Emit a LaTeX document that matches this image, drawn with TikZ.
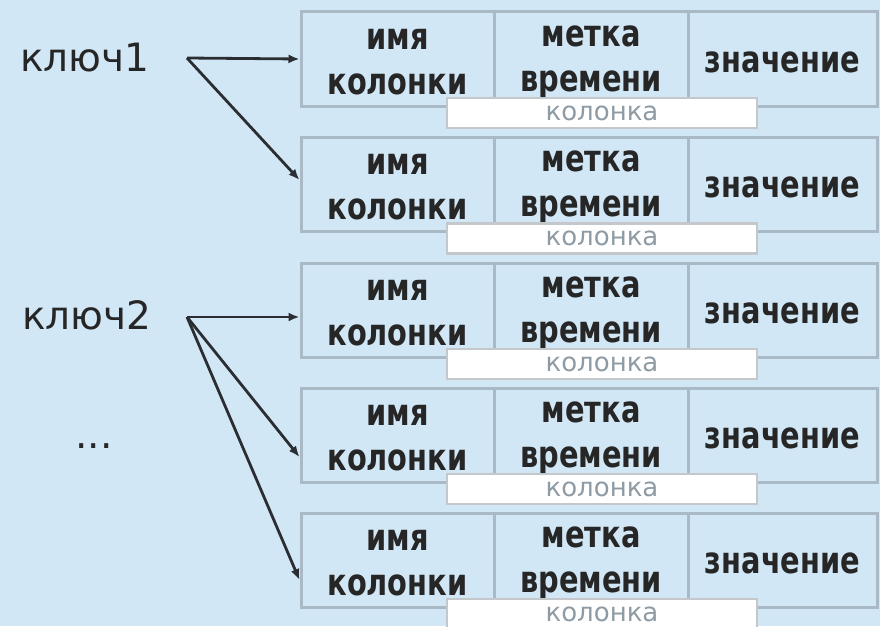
\documentclass[tikz,border=0pt]{standalone}
\usepackage{fontspec}
\setmainfont{DejaVu Sans}
\newfontfamily\cellfont[FakeStretch=0.78]{DejaVu Sans Bold}
\newfontfamily\keyfont{DejaVu Sans}
\usetikzlibrary{arrows.meta}
\definecolor{bg}{HTML}{D2E7F5}
\definecolor{cellline}{HTML}{A9BAC6}
\definecolor{lblline}{HTML}{C4C8CB}
\definecolor{lbltext}{HTML}{8E9BA4}
\definecolor{arr}{HTML}{2A2E32}
\tikzset{
  cell/.style={draw=cellline, line width=3pt, inner sep=0pt, minimum height=94pt},
  celltext/.style={align=center, inner sep=0pt, text=black!85, font={\cellfont\fontsize{37}{45}\selectfont}},
  lbl/.style={draw=lblline, line width=2.5pt, fill=white, minimum width=310pt, minimum height=30pt, inner sep=0pt,
     text=lbltext, font={\fontsize{26}{30}\selectfont}},
  keytext/.style={inner sep=0pt, text=black!85, font={\keyfont\fontsize{39}{44}\selectfont}},
  link/.style={draw=arr, line width=2.8pt, -{Latex[length=11pt,width=9pt]}}
}
\begin{document}
\begin{tikzpicture}[x=1pt,y=-1pt]
\fill[bg] (0,0) rectangle (880,626);
\useasboundingbox (0,0) rectangle (880,626);
\foreach \i/\t in {1/12,2/137.5,3/263,4/388,5/513}{
  \node[cell, minimum width=193pt] (n\i) at (397.5,\t+47) {};
  \node[cell, minimum width=194pt] (m\i) at (591,\t+47) {};
  \node[cell, minimum width=189pt] (v\i) at (782.5,\t+47) {};
  \node[celltext] (tn\i) at (397.5,\t+50) {имя\\колонки};
  \node[celltext] (tm\i) at (591,\t+50) {метка\\времени};
  \node[celltext] (tv\i) at (782.5,\t+50) {значение};
  \node[lbl] (l\i) at (602,\t+101) {колонка};
}
\node[keytext] (k1) at (85,58) {ключ1};
\node[keytext] (k2) at (87,315) {ключ2};
\node[keytext] (dots) at (94,446) {...};
\coordinate (s1) at (187,58);
\coordinate (s2) at (187,317);
\draw[link] (s1) -- (n1.west);
\draw[link] (s1) -- (n2.west |- 0,180);
\draw[link] (s2) -- (n3.west |- 0,317);
\draw[link] (s2) -- (n4.west |- 0,457);
\draw[link] (s2) -- (n5.west |- 0,580);
\end{tikzpicture}
\end{document}
